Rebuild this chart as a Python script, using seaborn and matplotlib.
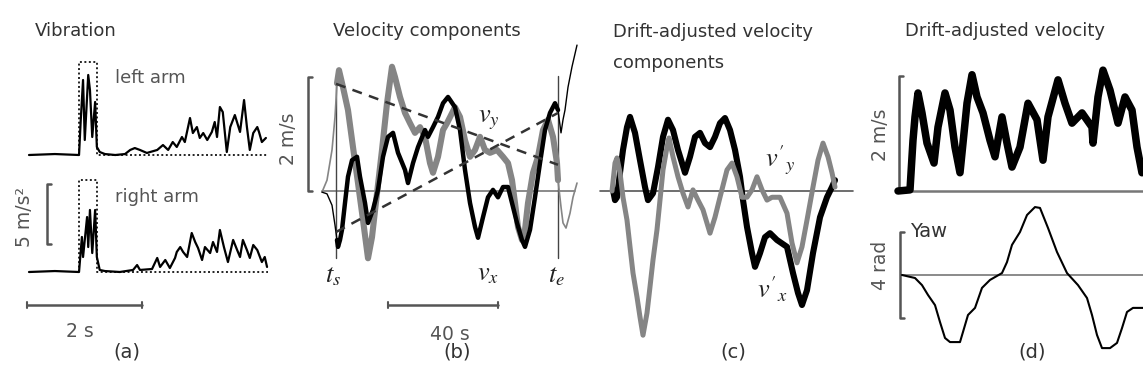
import matplotlib
matplotlib.use("Agg")
import matplotlib.pyplot as plt
import seaborn as sns

# ---------------- data ----------------
# (a) vibration, time [s] and acceleration [m/s^2]
left_t = [0.00, 0.45, 0.87, 0.90, 0.94, 0.97, 1.03, 1.06, 1.10, 1.15, 1.18, 1.23, 1.32, 1.50, 1.67, 1.76,
          1.84, 1.93, 2.05, 2.23, 2.33, 2.42, 2.50, 2.57, 2.66, 2.71, 2.80, 2.85, 2.92, 2.97, 3.03, 3.10,
          3.18, 3.23, 3.27, 3.32, 3.37, 3.44, 3.50, 3.58, 3.67, 3.74, 3.79, 3.84, 3.90, 3.97, 4.00, 4.05, 4.12]
left_acc = [0.00, 0.08, 0.00, 2.92, 6.25, 1.25, 6.67, 5.42, 1.50, 4.42, 0.67, 0.25, 0.08, 0.00, 0.08, 0.42,
            0.58, 0.42, 0.17, 0.42, 0.83, 0.42, 1.08, 0.67, 1.50, 1.08, 3.08, 1.83, 2.33, 1.42, 1.83, 1.25,
            1.92, 2.75, 1.50, 4.00, 3.58, 0.25, 2.33, 3.33, 1.92, 4.58, 2.33, 0.42, 1.83, 2.33, 1.92, 1.08, 1.42]
right_t = [0.00, 0.45, 0.87, 0.92, 0.94, 1.01, 1.03, 1.06, 1.10, 1.15, 1.18, 1.23, 1.32, 1.58, 1.81, 1.88,
           1.93, 2.14, 2.23, 2.28, 2.37, 2.45, 2.54, 2.57, 2.63, 2.68, 2.75, 2.83, 2.89, 2.94, 3.01, 3.06,
           3.15, 3.20, 3.27, 3.32, 3.39, 3.46, 3.55, 3.62, 3.67, 3.72, 3.79, 3.84, 3.90, 3.97, 4.05, 4.10, 4.14]
right_acc = [0.00, 0.08, 0.00, 2.92, 1.25, 4.58, 2.08, 5.17, 1.58, 5.17, 1.25, 0.17, 0.08, 0.00, 0.17, 0.58,
             0.17, 0.25, 1.17, 0.42, 1.00, 0.33, 1.17, 1.67, 2.08, 1.67, 1.25, 3.25, 2.50, 2.00, 1.00, 2.08,
             1.58, 2.50, 1.67, 3.50, 2.08, 0.83, 2.67, 1.83, 1.25, 2.67, 1.83, 1.17, 2.25, 1.83, 0.83, 1.25, 0.42]
window_t = [0.87, 0.87, 1.18, 1.18, 4.15]
window_left = [0.00, 7.75, 7.75, 0.00, 0.00]
window_right = [0.00, 7.67, 7.67, 0.00, 0.00]

# (b) raw velocity components, time [s], velocity [m/s]
vy_t = [-5.09, -3.27, -1.45, -0.36, 0.36, 1.09, 2.55, 4.36, 6.18, 8.00, 9.82, 11.64, 13.09, 14.91, 16.73,
        18.55, 20.36, 21.45, 23.27, 25.09, 26.91, 28.73, 30.55, 32.36, 34.18, 35.27, 37.09, 38.91, 40.36,
        43.27, 45.09, 46.91, 48.73, 50.55, 52.36, 54.18, 56.00, 58.55, 60.73, 62.55, 64.00, 65.09, 66.18,
        67.64, 68.73, 69.82, 71.64, 73.45, 75.27, 77.09, 78.91, 80.36, 80.73, 81.82, 82.55, 83.64, 85.09,
        86.18, 87.64]
vy = [-0.02, 0.19, 0.72, 1.30, 1.89, 2.12, 1.82, 1.42, 0.77, 0.14, -0.51, -1.18, -0.81, -0.04, 0.72,
      1.54, 2.18, 2.00, 1.65, 1.37, 1.19, 1.02, 1.12, 0.95, 0.49, 0.32, 0.60, 1.07, 1.19,
      1.47, 1.30, 0.89, 0.60, 0.72, 0.95, 0.72, 0.67, 0.72, 0.60, 0.49, 0.19, -0.21, -0.63,
      -0.86, -0.68, -0.21, 0.32, 0.60, 1.07, 1.25, 0.95, 0.49, 0.19, -0.28, -0.56, -0.65, -0.39,
      -0.11, 0.14]
vx_t = [-5.09, -3.27, -1.45, -0.36, 0.36, 0.73, 1.45, 2.18, 3.27, 4.36, 5.82, 7.64, 8.73, 10.55, 11.64,
        13.45, 15.27, 17.09, 18.91, 20.73, 22.55, 25.09, 26.18, 28.00, 29.82, 32.36, 33.45, 35.27, 37.09,
        38.91, 40.73, 41.45, 43.27, 45.09, 46.91, 48.73, 50.55, 51.64, 53.45, 55.27, 57.09, 58.91, 60.73,
        62.55, 64.00, 65.82, 67.64, 68.73, 70.55, 72.36, 74.18, 76.00, 77.82, 79.64, 80.73, 81.82, 82.55,
        83.27, 84.36, 85.82, 87.64]
vx = [-0.02, -0.05, -0.25, -0.60, -0.86, -0.98, -0.86, -0.68, -0.21, 0.25, 0.54, 0.60, 0.25, -0.21, -0.56,
      -0.33, 0.02, 0.60, 0.95, 1.02, 0.67, 0.37, 0.14, 0.49, 0.77, 1.07, 0.95, 1.12, 1.30,
      1.54, 1.65, 1.60, 1.47, 1.07, 0.37, -0.21, -0.63, -0.82, -0.46, -0.11, 0.02, -0.11, 0.07,
      0.07, -0.21, -0.56, -0.86, -0.98, -0.68, -0.11, 0.49, 1.07, 1.37, 1.54, 1.42, 1.02, 1.25,
      1.42, 1.82, 2.18, 2.56]
t_start, t_end = 0.0, 80.73
drift_t = [t_start, t_end]
drift_vy = [1.88, 0.46]
drift_vx = [-0.72, 1.37]

# (c) drift-adjusted components
vxa_t = [0.36, 1.09, 1.82, 2.91, 4.00, 5.45, 6.55, 8.36, 10.18, 12.00, 13.09, 14.91, 16.73, 18.55, 20.36,
         22.18, 24.00, 26.55, 28.36, 30.18, 32.00, 33.82, 35.64, 37.45, 39.27, 41.09, 42.91, 44.73, 46.55,
         47.64, 49.09, 50.91, 52.00, 53.82, 55.64, 57.45, 60.00, 63.64, 65.82, 67.64, 69.09, 70.91, 73.09,
         75.64, 78.18, 80.00, 81.09]
vxa = [0.02, -0.16, -0.11, 0.32, 0.72, 1.12, 1.30, 1.02, 0.54, 0.07, -0.16, -0.04, 0.42, 0.95, 1.25,
       1.07, 0.72, 0.32, 0.60, 0.95, 1.02, 0.84, 0.77, 0.95, 1.19, 1.28, 1.07, 0.72, 0.25,
       -0.16, -0.63, -1.09, -1.33, -1.09, -0.81, -0.74, -0.86, -0.98, -1.44, -1.79, -2.00, -1.74, -1.09,
       -0.46, -0.11, 0.07, 0.19]
vya_t = [0.00, 1.09, 1.82, 2.91, 4.00, 5.45, 6.55, 7.64, 9.09, 10.18, 11.27, 12.73, 13.82, 14.91, 16.36,
         17.45, 18.55, 20.00, 20.73, 22.18, 24.00, 25.82, 27.64, 29.45, 31.27, 33.09, 35.64, 37.45, 39.27,
         41.82, 43.64, 45.45, 47.27, 49.09, 50.91, 52.73, 54.55, 56.36, 58.18, 61.09, 63.64, 65.45, 67.27,
         69.09, 70.91, 73.09, 74.91, 76.73, 78.55, 80.00, 81.09]
vya = [0.00, 0.49, 0.58, 0.32, -0.11, -0.51, -0.98, -1.44, -1.86, -2.21, -2.53, -2.14, -1.68, -1.21, -0.68,
       -0.16, 0.37, 0.77, 0.93, 0.60, 0.25, -0.04, -0.28, 0.02, -0.16, -0.33, -0.74, -0.46, -0.11,
       0.37, 0.49, 0.25, -0.11, -0.11, 0.02, 0.25, 0.02, -0.16, -0.11, -0.11, -0.39, -0.91, -1.26,
       -0.98, -0.51, 0.07, 0.54, 0.84, 0.60, 0.32, 0.07]

# (d) speed [m/s] and yaw [rad]
speed_t = [-4.36, 0.00, 1.09, 1.82, 2.91, 4.36, 6.18, 8.73, 10.18, 12.73, 14.55, 16.36, 18.18, 19.27,
           20.73, 22.55, 24.36, 26.55, 29.09, 30.91, 33.45, 35.27, 37.09, 40.00, 42.91, 46.18, 48.36,
           50.18, 53.82, 56.36, 58.91, 62.55, 66.18, 66.55, 68.36, 70.18, 72.73, 75.64, 78.18, 80.73,
           82.55, 84.36]
speed = [0.00, 0.02, 0.89, 1.30, 1.72, 1.37, 0.84, 0.49, 1.12, 1.72, 1.42, 0.77, 0.32, 0.84,
         1.54, 2.04, 1.65, 1.37, 0.89, 0.60, 1.30, 0.84, 0.42, 0.77, 1.54, 1.25, 0.54,
         1.30, 1.95, 1.54, 1.19, 1.37, 1.12, 0.84, 1.65, 2.12, 1.77, 1.19, 1.65, 1.42,
         0.77, 0.32]
yaw_t = [-2.91, 1.82, 4.36, 6.55, 9.09, 10.91, 12.73, 14.55, 18.18, 19.27, 21.09, 23.64, 26.18, 29.09,
         33.45, 35.27, 37.09, 40.00, 42.55, 45.45, 47.27, 50.18, 53.45, 57.09, 61.09, 64.36, 66.18,
         68.00, 69.82, 72.73, 75.27, 77.09, 78.91, 81.09, 84.73]
yaw = [0.00, -0.14, -0.47, -0.93, -1.40, -2.19, -2.93, -3.12, -3.12, -2.65, -1.86, -1.53, -0.60, -0.23,
       0.09, 0.60, 1.40, 2.00, 2.79, 3.16, 3.12, 2.19, 1.07, 0.09, -0.47, -1.07, -1.86,
       -2.79, -3.40, -3.40, -3.16, -2.47, -1.72, -1.53, -1.53]

# ---------------- figure ----------------
sns.set_theme(style="white")
plt.rcParams["font.family"] = ["DejaVu Sans"]
plt.rcParams["mathtext.fontset"] = "stix"

W, H = 1143, 383
fig = plt.figure(figsize=(W / 100, H / 100), dpi=100)
fig.patch.set_facecolor("white")

GRAY = "#858585"
BAR = "#555555"
TXT = "#333333"


def panel(x0, x1, ox, oy, sx, sy):
    # transparent axes over a horizontal strip of the figure; (ox, oy) is where data 0,0 sits
    ax = fig.add_axes([x0 / W, 0, (x1 - x0) / W, 1])
    ax.set_xlim((x0 - ox) / sx, (x1 - ox) / sx)
    ax.set_ylim((oy - H) / sy, oy / sy)
    ax.axis("off")
    ax.patch.set_alpha(0)
    return ax


def label(x, y, s, **kw):
    kw.setdefault("color", TXT)
    kw.setdefault("fontsize", 13)
    fig.text(x / W, 1 - y / H, s, **kw)


def line(ax, x, y, color="black", lw=1.4, **kw):
    sns.lineplot(x=x, y=y, ax=ax, color=color, lw=lw, estimator=None, sort=False,
                 solid_joinstyle="round", clip_on=False, **kw)


def vbracket(ax, x, y0, y1, tick):
    ax.plot([x + tick, x, x, x + tick], [y0, y0, y1, y1], color=BAR, lw=1.8, clip_on=False)


def hbar(ax, x0, x1, y, tick):
    ax.plot([x0, x1], [y, y], color=BAR, lw=1.8, clip_on=False)
    for xx in (x0, x1):
        ax.plot([xx, xx], [y - tick, y + tick], color=BAR, lw=1.5, clip_on=False)


ax_a1 = panel(0, 290, 29, 155, 57.5, 12)
ax_a2 = panel(0, 290, 29, 272, 57.5, 12)
ax_b = panel(285, 595, 336, 191, 2.75, 57)
ax_c = panel(595, 880, 612, 191, 2.75, 57)
ax_d1 = panel(880, 1143, 910, 191, 2.75, 57)
ax_d2 = panel(880, 1143, 910, 275, 2.75, 21.5)

# (a)
for ax, t, acc, win in [(ax_a1, left_t, left_acc, window_left), (ax_a2, right_t, right_acc, window_right)]:
    ax.plot(window_t, win, color="#222222", lw=1.4, ls=(0, (1, 1.3)), clip_on=False)
    line(ax, t, acc, lw=1.6)
vbracket(ax_a2, 0.31, 2.33, 7.33, 0.07)
hbar(ax_a2, -0.03, 1.97, -2.75, 0.25)

# (b)
ax_b.plot([-5.09, 86.9], [0, 0], color="#777777", lw=1.2)
for tt in (t_start, t_end):
    ax_b.plot([tt, tt], [-1.18, 2.02], color="#444444", lw=1.0)
in_b_y = [t_start <= v <= t_end for v in vy_t]
in_b_x = [t_start <= v <= t_end for v in vx_t]
line(ax_b, vy_t, vy, color=GRAY, lw=1.2)
line(ax_b, vx_t, vx, color="black", lw=1.0)
line(ax_b, [a for a, m in zip(vy_t, in_b_y) if m], [a for a, m in zip(vy, in_b_y) if m], color=GRAY, lw=4.4)
line(ax_b, [a for a, m in zip(vx_t, in_b_x) if m], [a for a, m in zip(vx, in_b_x) if m], color="black", lw=3.2)
ax_b.plot(drift_t, drift_vy, color="#333333", lw=1.8, ls=(0, (4, 3)))
ax_b.plot(drift_t, drift_vx, color="#333333", lw=1.8, ls=(0, (4, 3)))
vbracket(ax_b, -10.18, 0, 2, 1.5)
hbar(ax_b, 18.91, 58.91, -2.0, 0.05)

# (c)
ax_c.plot([-4.36, 87.64], [0, 0], color="#555555", lw=1.2)
line(ax_c, vxa_t, vxa, color="black", lw=4.4)
line(ax_c, vya_t, vya, color=GRAY, lw=3.6)

# (d)
ax_d1.plot([-4.36, 84.7], [0, 0], color="#777777", lw=1.8)
vbracket(ax_d1, -4.0, 0, 2.02, 1.5)
line(ax_d1, speed_t, speed, color="black", lw=5.4)
ax_d2.plot([-2.91, 84.7], [0, 0], color="#777777", lw=1.2)
vbracket(ax_d2, -3.64, -2, 2, 1.5)
line(ax_d2, yaw_t, yaw, color="black", lw=1.5)

# ---------------- text ----------------
label(35, 36, "Vibration", va="baseline")
label(333, 36, "Velocity components", va="baseline")
label(613, 37, "Drift-adjusted velocity", va="baseline")
label(613, 68, "components", va="baseline")
label(905, 36, "Drift-adjusted velocity", va="baseline")

label(115, 83, "left arm", va="baseline", color="#555555")
label(115, 202, "right arm", va="baseline", color="#555555")
label(24, 217, "5 m/s²", rotation=90, ha="center", va="center", color="#555555", fontsize=13.5)
label(80, 337, "2 s", ha="center", va="baseline", color="#555555", fontsize=13.5)
label(288, 139, "2 m/s", rotation=90, ha="center", va="center", color="#555555", fontsize=13.5)
label(450, 340, "40 s", ha="center", va="baseline", color="#555555", fontsize=13.5)
label(880, 135, "2 m/s", rotation=90, ha="center", va="center", color="#555555", fontsize=13.5)
label(880, 265, "4 rad", rotation=90, ha="center", va="center", color="#555555", fontsize=13.5)
label(910, 237, "Yaw", va="baseline", fontsize=14)

label(478, 122, r"$v_y$", va="baseline", fontsize=19, color="#222222")
label(477, 280, r"$v_x$", va="baseline", fontsize=19, color="#222222")
label(325, 282, r"$t_s$", va="baseline", fontsize=19, color="#222222")
label(548, 282, r"$t_e$", va="baseline", fontsize=19, color="#222222")
label(765, 167, r"$v'_y$", va="baseline", fontsize=19, color="#222222")
label(757, 298, r"$v'_x$", va="baseline", fontsize=19, color="#222222")

for x, s in [(127, "(a)"), (457, "(b)"), (733, "(c)"), (1032, "(d)")]:
    label(x, 358, s, ha="center", va="baseline", fontsize=14)

fig.savefig("out.png", dpi=100, facecolor="white")
